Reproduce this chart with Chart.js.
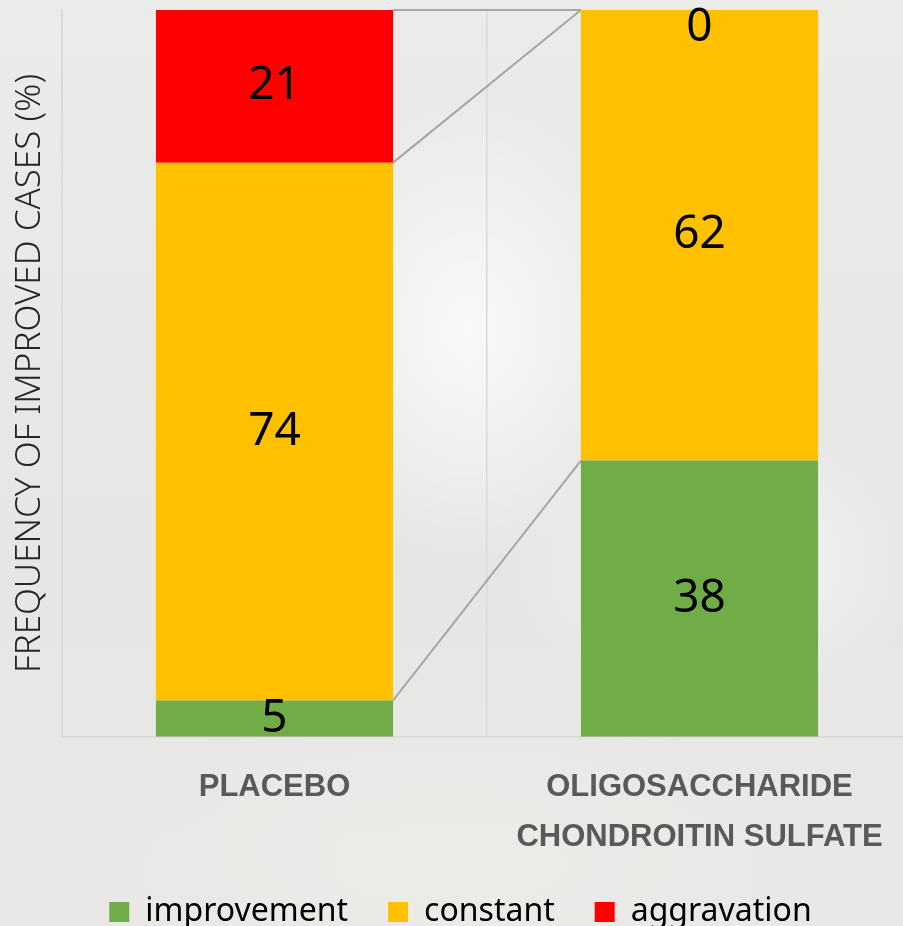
<!DOCTYPE html>
<html>
<head>
<meta charset="utf-8">
<script src="https://cdn.jsdelivr.net/npm/chart.js@4"></script>
<style>
  html, body { margin: 0; padding: 0; overflow: hidden; }
  body {
    width: 903px; height: 926px;
    background:
      radial-gradient(ellipse 260px 330px at 470px 330px, rgba(255,255,255,0.75), rgba(255,255,255,0) 70%),
      radial-gradient(ellipse 300px 200px at 720px 560px, rgba(245,247,248,0.9), rgba(245,247,248,0) 70%),
      radial-gradient(ellipse 500px 220px at 450px 860px, rgba(238,236,233,0.9), rgba(238,236,233,0) 75%),
      linear-gradient(180deg, #ebebea 0%, #e6e6e4 60%, #e9e8e6 100%);
  }
  .wrap { position: relative; width: 912px; height: 926px; }
</style>
</head>
<body>
<div class="wrap"><canvas id="myChart"></canvas></div>
<script>
let categories = [["PLACEBO"], ["OLIGOSACCHARIDE", "CHONDROITIN SULFATE"]];
let seriesNames = ["improvement", "constant", "aggravation"];
let improvement = [5, 38];
let constant = [74, 62];
let aggravation = [21, 0];
let seriesColors = ["#70ad47", "#ffc000", "#ff0000"];

// gray lines that join the tops of each series between the two bars
const seriesLines = {
    id: "seriesLines",
    beforeDatasetsDraw(chart) {
        let ctx = chart.ctx;
        ctx.save();
        ctx.strokeStyle = "#a6a6a6";
        ctx.lineWidth = 2;
        chart.data.datasets.forEach((ds, i) => {
            let bars = chart.getDatasetMeta(i).data;
            let a = bars[0], b = bars[1];
            ctx.beginPath();
            ctx.moveTo(a.x + a.width / 2, a.y);
            ctx.lineTo(b.x - b.width / 2, b.y);
            ctx.stroke();
        });
        ctx.restore();
    }
};

const barLabels = {
    id: "barLabels",
    afterDatasetsDraw(chart) {
        let ctx = chart.ctx;
        let top = chart.chartArea.top;
        ctx.save();
        ctx.fillStyle = "#000";
        ctx.font = "46px 'Noto Sans'";
        ctx.textAlign = "center";
        ctx.textBaseline = "middle";
        chart.data.datasets.forEach((ds, i) => {
            chart.getDatasetMeta(i).data.forEach((bar, j) => {
                let y = (bar.y + bar.base) / 2;
                if (y < top + 18) y = top + 18;
                ctx.fillText(ds.data[j], bar.x, y);
            });
        });
        ctx.restore();
    }
};

const ctx = document.getElementById("myChart");

new Chart(ctx, {
    type: "bar",
    data: {
        labels: categories,
        datasets: [
            { label: seriesNames[0], data: improvement, backgroundColor: seriesColors[0] },
            { label: seriesNames[1], data: constant, backgroundColor: seriesColors[1] },
            { label: seriesNames[2], data: aggravation, backgroundColor: seriesColors[2] }
        ]
    },
    options: {
        responsive: true,
        maintainAspectRatio: false,
        animation: false,
        categoryPercentage: 0.558,
        barPercentage: 1,
        layout: { padding: { top: 10, left: 9, right: 0, bottom: -12 } },
        plugins: {
            tooltip: { enabled: false },
            legend: {
                position: "bottom",
                labels: {
                    color: "#000",
                    font: { family: "'Noto Sans'", size: 32 },
                    boxWidth: 20,
                    boxHeight: 20,
                    padding: 40
                }
            }
        },
        scales: {
            x: {
                stacked: true,
                grid: { display: true, color: "#d9d9d9", lineWidth: 1.5, drawTicks: false },
                border: { display: true, color: "#d9d9d9", width: 1.5 },
                ticks: {
                    color: "#595959",
                    font: { family: "'Liberation Sans'", size: 31, weight: "bold", lineHeight: 1.6 },
                    padding: 26,
                    maxRotation: 0
                },
                afterFit(scale) { scale.height -= 32; }
            },
            y: {
                stacked: true,
                min: 0,
                max: 100,
                grid: { display: false },
                border: { display: true, color: "#d9d9d9", width: 1.5 },
                ticks: { display: false },
                title: {
                    display: true,
                    text: "FREQUENCY OF IMPROVED CASES (%)",
                    color: "#262626",
                    font: { family: "'Noto Sans'", size: 35, weight: "300" },
                    padding: { top: 0, bottom: 3 }
                }
            }
        }
    },
    plugins: [seriesLines, barLabels]
});
</script>
</body>
</html>
